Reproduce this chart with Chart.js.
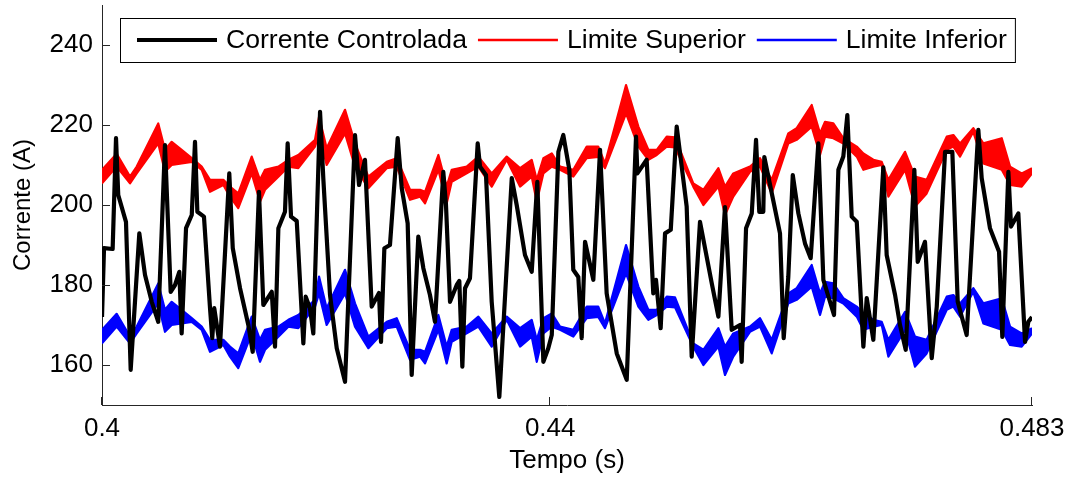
<!DOCTYPE html>
<html lang="pt">
<head>
<meta charset="UTF-8">
<title>Corrente controlada e limites</title>
<script src="https://cdn.jsdelivr.net/npm/chart.js"></script>
<style>
  body { margin: 0; background: #fff; }
</style>
</head>
<body>
<canvas id="grafico" width="1072" height="478"></canvas>
<script>
// nomes das séries (legenda)
const nomes = ['Corrente Controlada', 'Limite Superior', 'Limite Inferior'];

// eixos
const yTicks = [160, 180, 200, 220, 240];
const xTicks = [0.4, 0.44, 0.483];
const xTickLabels = ['0.4', '0.44', '0.483'];

// corrente controlada: instantes (s) e valores (A)
const tCorrente = [
  0.4, 0.40018, 0.40095, 0.40125, 0.40145, 0.40214, 0.40256, 0.40333, 0.40384, 0.40444,
  0.40502, 0.40562, 0.40613, 0.40652, 0.4069, 0.40711, 0.4075, 0.40801, 0.4083, 0.40851,
  0.4091, 0.40964, 0.40984, 0.41002, 0.41053, 0.41136, 0.41167, 0.41232, 0.41306, 0.41345,
  0.41401, 0.4144, 0.41515, 0.41544, 0.41574, 0.41633, 0.41657, 0.41687, 0.41738, 0.41797,
  0.41818, 0.41856, 0.41886, 0.41946, 0.41975, 0.42035, 0.42095, 0.42169, 0.42258, 0.42294,
  0.42347, 0.42407, 0.42472, 0.4249, 0.4252, 0.4257, 0.42639, 0.42675, 0.42728, 0.42764,
  0.42823, 0.42868, 0.42927, 0.42972, 0.43046, 0.4307, 0.43106, 0.43166, 0.43189, 0.43216,
  0.4324, 0.43284, 0.43353, 0.43374, 0.43427, 0.43478, 0.43546, 0.43657, 0.43701, 0.43775,
  0.43835, 0.43885, 0.43939, 0.43983, 0.44014, 0.44073, 0.44117, 0.44171, 0.44206, 0.44251,
  0.44281, 0.44311, 0.44385, 0.44445, 0.44504, 0.44594, 0.44683, 0.44766, 0.44778, 0.44861,
  0.4492, 0.44944, 0.44986, 0.45025, 0.45076, 0.45129, 0.45218, 0.45263, 0.45337, 0.45442,
  0.45501, 0.4556, 0.4562, 0.45694, 0.45709, 0.45748, 0.45799, 0.45837, 0.45866, 0.45902,
  0.45911, 0.45977, 0.46051, 0.46084, 0.46125, 0.46165, 0.46215, 0.46274, 0.46325, 0.46393,
  0.46438, 0.46533, 0.46572, 0.46616, 0.46652, 0.46691, 0.46736, 0.46795, 0.46825, 0.46884,
  0.46973, 0.47003, 0.47078, 0.47122, 0.47173, 0.4725, 0.4728, 0.47345, 0.47405, 0.4745,
  0.47524, 0.47589, 0.47637, 0.47717, 0.47821, 0.47851, 0.47925, 0.48006, 0.48035, 0.48089,
  0.48113, 0.48178, 0.48238, 0.48267, 0.483
];
const corrente = [
  172, 189.2, 189, 216.7, 202.5, 195.8, 158.8, 192.9, 182.5, 175.8,
  170.8, 215, 178.3, 180, 183.3, 167.9, 194.2, 197.5, 215.8, 198.3,
  197.1, 174.2, 166.7, 174.2, 164.6, 207.9, 189.2, 179.2, 170, 163.3,
  203.3, 175, 178.3, 164.6, 194.2, 198.3, 215.4, 197.1, 196, 165.4,
  177.1, 174.2, 167.9, 223.3, 206.7, 177.5, 164.2, 155.8, 217.5, 205,
  211.3, 174.6, 178, 165.8, 189.2, 190, 216.7, 204.2, 195.4, 157.5,
  192.1, 184.2, 177.5, 170.8, 208.3, 200, 175.8, 180, 181, 159.6,
  179.2, 181.7, 215.4, 209.6, 207.5, 175.8, 152, 206.7, 200, 187.5,
  183.3, 205.8, 160.8, 164.2, 167.5, 213.3, 217.5, 208.8, 183.8, 182,
  166.7, 190.8, 181.3, 213.8, 177.9, 162.9, 156.3, 217.1, 207.9, 211.3,
  177.9, 181.3, 169.2, 192.9, 193.8, 219.6, 199.6, 162.1, 195.8, 180.4,
  172.1, 199.5, 168.8, 170, 160.8, 194.2, 197.9, 216.3, 198.3, 198.3,
  212, 203, 192.9, 166.7, 182, 207.5, 197.9, 190.4, 186.7, 215.4,
  181.3, 172.5, 208.8, 212.1, 222.5, 197.1, 195.8, 164.6, 176.7, 166.3,
  209.4, 187.5, 177.5, 170, 163.8, 208.8, 185.8, 190.8, 161.7, 174.6,
  213.3, 213.3, 175.8, 167.5, 218.8, 206.7, 194.2, 188.3, 167, 208.3,
  194.6, 197.9, 165.8, 170.8, 172
];

// limites de histerese: envoltória superior e inferior de cada faixa
const tLimite = [
  0.4, 0.40131, 0.4025, 0.4031, 0.40502, 0.40562, 0.40622, 0.40711, 0.40801, 0.4089,
  0.40964, 0.41083, 0.41142, 0.41216, 0.41336, 0.4141, 0.41455, 0.41574, 0.41663, 0.41752,
  0.41901, 0.41937, 0.42005, 0.42169, 0.42258, 0.42377, 0.42541, 0.4263, 0.42749, 0.42838,
  0.42883, 0.43002, 0.43076, 0.43121, 0.43255, 0.43359, 0.43478, 0.43612, 0.43731, 0.43835,
  0.4388, 0.43939, 0.44014, 0.44088, 0.44206, 0.44326, 0.44429, 0.44489, 0.44677, 0.44787,
  0.44876, 0.44951, 0.4504, 0.45114, 0.45277, 0.45367, 0.45501, 0.4556, 0.45634, 0.45783,
  0.45873, 0.45977, 0.46125, 0.462, 0.46334, 0.46408, 0.46453, 0.46527, 0.46616, 0.46736,
  0.46795, 0.46884, 0.46959, 0.47018, 0.47167, 0.47256, 0.4736, 0.47539, 0.47598, 0.47658,
  0.47776, 0.47866, 0.4803, 0.48104, 0.48208, 0.483
];
const limSupTopo = [
  208.8, 212.8, 207.1, 209.6, 220.4, 213.8, 215.8, 213.8, 211.7, 209.6,
  206.3, 206.3, 204.6, 202.9, 212.1, 206.3, 208.8, 209.6, 211.3, 212.5,
  216.3, 222.1, 214.2, 223.8, 215.4, 207.1, 210.8, 211.7, 203.8, 203.8,
  203.3, 212.5, 204.6, 208.8, 209.6, 212.1, 207.9, 212.1, 209.2, 211.3,
  206.3, 211.7, 212.9, 209.6, 208.8, 214.6, 214.6, 210.4, 230, 219.6,
  213.8, 213.8, 217.1, 216.9, 205.4, 203.8, 209.2, 204.6, 207.9, 209.6,
  211.7, 206.3, 217.9, 219.2, 225, 217.9, 220.8, 220.4, 216.7, 214.6,
  212.9, 211.3, 210.8, 206.3, 213.3, 207.1, 206.3, 217.1, 217.5, 215.4,
  219.2, 215.4, 216.7, 209.6, 207.9, 209.2
];
const limSupBase = [
  205.4, 209.6, 205.4, 207.9, 215.4, 208.3, 210, 210.4, 210.8, 208.8,
  203.3, 205, 202.1, 199.2, 207.9, 200.8, 203.8, 207.1, 209.6, 209.2,
  214.6, 217.9, 210, 217.9, 209.6, 204.2, 209.2, 209.6, 201.3, 202.1,
  200.4, 208.8, 200.4, 205.8, 207.9, 209.6, 204.6, 211.3, 204.6, 207.1,
  200.8, 207.9, 209.6, 208.8, 207.1, 211.7, 212, 209.2, 222.9, 214.6,
  211.3, 212.5, 214.6, 214.4, 204.6, 200, 204.6, 197.5, 202.1, 208.3,
  209.6, 202.9, 215.4, 216.3, 219.6, 212.5, 217.1, 216.7, 215.4, 212.1,
  208.8, 209.6, 210, 202.1, 208.8, 199.6, 202.9, 213.8, 214.6, 212.1,
  218.3, 210.4, 208.8, 205, 204.6, 207.9
];
const limInfTopo = [
  168.8, 172.8, 167.1, 169.6, 180.4, 173.8, 175.8, 173.8, 171.7, 169.6,
  166.3, 166.3, 164.6, 162.9, 172.1, 166.3, 168.8, 169.6, 171.3, 172.5,
  176.3, 182.1, 174.2, 183.8, 175.4, 167.1, 170.8, 171.7, 163.8, 163.8,
  163.3, 172.5, 164.6, 168.8, 169.6, 172.1, 167.9, 172.1, 169.2, 171.3,
  166.3, 171.7, 172.9, 169.6, 168.8, 174.6, 174.6, 170.4, 190, 179.6,
  173.8, 173.8, 177.1, 176.9, 165.4, 163.8, 169.2, 164.6, 167.9, 169.6,
  171.7, 166.3, 177.9, 179.2, 185, 177.9, 180.8, 180.4, 176.7, 174.6,
  172.9, 171.3, 170.8, 166.3, 173.3, 167.1, 166.3, 177.1, 177.5, 175.4,
  179.2, 175.4, 176.7, 169.6, 167.9, 169.2
];
const limInfBase = [
  165.4, 169.6, 165.4, 167.9, 175.4, 168.3, 170, 170.4, 170.8, 168.8,
  163.3, 165, 162.1, 159.2, 167.9, 160.8, 163.8, 167.1, 169.6, 169.2,
  174.6, 177.9, 170, 177.9, 169.6, 164.2, 169.2, 169.6, 161.3, 162.1,
  160.4, 168.8, 160.4, 165.8, 167.9, 169.6, 164.6, 171.3, 164.6, 167.1,
  160.8, 167.9, 169.6, 168.8, 167.1, 171.7, 172, 169.2, 182.9, 174.6,
  171.3, 172.5, 174.6, 174.4, 164.6, 160, 164.6, 157.5, 162.1, 168.3,
  169.6, 162.9, 175.4, 176.3, 179.6, 172.5, 177.1, 176.7, 175.4, 172.1,
  168.8, 169.6, 170, 162.1, 168.8, 159.6, 162.9, 173.8, 174.6, 172.1,
  178.3, 170.4, 168.8, 165, 164.6, 167.9
];

const fonte = "'Liberation Sans', Arial, Helvetica, sans-serif";
const PRETO = '#000000', VERMELHO = '#ff0000', AZUL = '#0000ff';

function pontos(ts, vs) {
  return ts.map((t, i) => ({ x: t, y: vs[i] }));
}

// marcas dos eixos para dentro (estilo MATLAB)
const marcasInternas = {
  id: 'marcasInternas',
  afterDraw(chart) {
    const { ctx, chartArea: a, scales: { x, y } } = chart;
    ctx.save();
    ctx.strokeStyle = '#262626';
    ctx.lineWidth = 1;
    ctx.beginPath();
    y.ticks.forEach(t => {
      const py = Math.round(y.getPixelForValue(t.value)) + 0.5;
      ctx.moveTo(a.left, py);
      ctx.lineTo(a.left + 8, py);
    });
    x.ticks.forEach(t => {
      const px = Math.round(x.getPixelForValue(t.value)) - 0.5;
      ctx.moveTo(px, a.bottom);
      ctx.lineTo(px, a.bottom - 8);
    });
    ctx.stroke();
    ctx.restore();
  }
};

// legenda em caixa, numa linha, dentro da área do gráfico
const legendaCaixa = {
  id: 'legendaCaixa',
  afterDraw(chart) {
    const ctx = chart.ctx;
    const itens = [
      { texto: nomes[0], cor: PRETO, largura: 4.2 },
      { texto: nomes[1], cor: VERMELHO, largura: 2.5 },
      { texto: nomes[2], cor: AZUL, largura: 2.5 }
    ];
    const x0 = 120, y0 = 18, alt = 44, amostra = 80;
    const yc = y0 + alt / 2;
    ctx.save();
    ctx.font = '26.6px ' + fonte;
    let x = x0 + 17;
    const posicoes = itens.map(it => {
      const p = { x, xt: x + amostra + 9 };
      x = p.xt + ctx.measureText(it.texto).width + 11;
      return p;
    });
    const direita = x - 11 + 8;
    ctx.fillStyle = '#fff';
    ctx.fillRect(x0, y0, direita - x0, alt);
    ctx.strokeStyle = '#000';
    ctx.lineWidth = 1;
    ctx.strokeRect(x0 + 0.5, y0 + 0.5, direita - x0, alt);
    itens.forEach((it, i) => {
      const p = posicoes[i];
      ctx.strokeStyle = it.cor;
      ctx.lineWidth = it.largura;
      ctx.beginPath();
      ctx.moveTo(p.x, yc);
      ctx.lineTo(p.x + amostra, yc);
      ctx.stroke();
      ctx.fillStyle = '#000';
      ctx.textBaseline = 'middle';
      ctx.fillText(it.texto, p.xt, yc + 1);
    });
    ctx.restore();
  }
};

const faixa = (dados, cor, preenche) => ({
  data: dados,
  borderColor: cor,
  backgroundColor: cor,
  borderWidth: 2.2,
  pointRadius: 0,
  tension: 0,
  borderJoinStyle: 'round',
  fill: preenche
});

new Chart(document.getElementById('grafico'), {
  type: 'line',
  data: {
    datasets: [
      {
        label: nomes[0],
        data: pontos(tCorrente, corrente),
        borderColor: PRETO,
        borderWidth: 4.2,
        pointRadius: 0,
        tension: 0,
        borderJoinStyle: 'round',
        fill: false
      },
      Object.assign(faixa(pontos(tLimite, limSupTopo), VERMELHO, '+1'), { label: nomes[1] }),
      faixa(pontos(tLimite, limSupBase), VERMELHO, false),
      Object.assign(faixa(pontos(tLimite, limInfTopo), AZUL, '+1'), { label: nomes[2] }),
      faixa(pontos(tLimite, limInfBase), AZUL, false)
    ]
  },
  options: {
    responsive: false,
    animation: false,
    devicePixelRatio: 1,
    layout: { padding: { top: 5, right: 40, left: 0, bottom: 0 } },
    plugins: {
      legend: { display: false },
      tooltip: { enabled: false }
    },
    scales: {
      x: {
        type: 'linear',
        min: 0.4,
        max: 0.483,
        grid: { display: false, drawTicks: false, tickLength: 0 },
        border: { display: true, color: '#262626', width: 1 },
        afterBuildTicks: s => { s.ticks = xTicks.map(v => ({ value: v })); },
        afterFit: s => { s.height = 73; s.paddingLeft = 0; s.paddingRight = 0; },
        ticks: {
          autoSkip: false,
          maxRotation: 0,
          padding: 8,
          color: '#000',
          font: { family: fonte, size: 26 },
          callback: (v, i) => xTickLabels[i]
        },
        title: {
          display: true,
          text: 'Tempo (s)',
          color: '#000',
          font: { family: fonte, size: 26 },
          padding: { top: 0, bottom: 2 }
        }
      },
      y: {
        min: 150,
        max: 250,
        grid: { display: false, drawTicks: false, tickLength: 0 },
        border: { display: true, color: '#262626', width: 1 },
        afterBuildTicks: s => { s.ticks = yTicks.map(v => ({ value: v })); },
        afterFit: s => { s.width = 102; s.paddingTop = 0; s.paddingBottom = 0; },
        ticks: {
          padding: 9,
          color: '#000',
          font: { family: fonte, size: 26 },
          callback: v => String(v)
        },
        title: {
          display: true,
          text: 'Corrente (A)',
          color: '#000',
          font: { family: fonte, size: 24 },
          padding: { top: 9, bottom: 0 }
        }
      }
    }
  },
  plugins: [marcasInternas, legendaCaixa]
});
</script>
</body>
</html>
